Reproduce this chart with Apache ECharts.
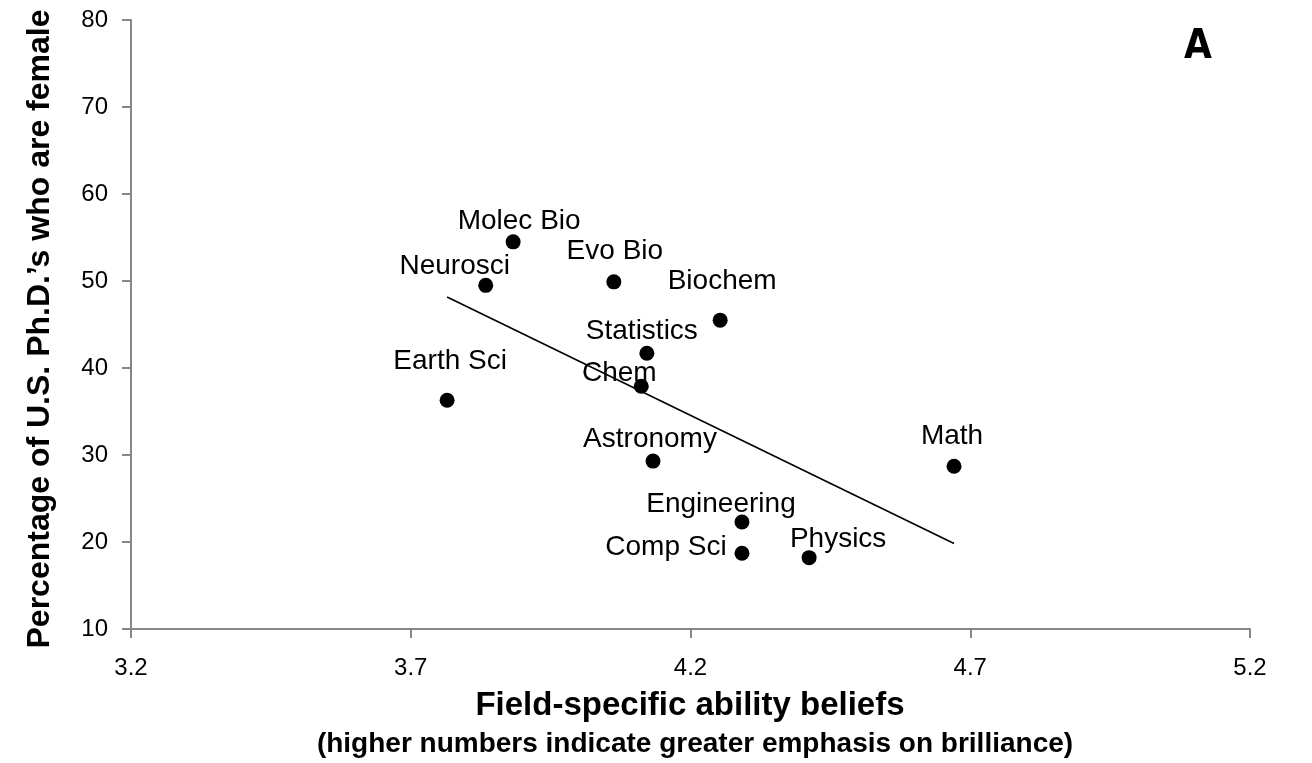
<!DOCTYPE html>
<html>
<head>
<meta charset="utf-8">
<script src="https://cdn.jsdelivr.net/npm/echarts@6/dist/echarts.min.js"></script>
<style>
html, body { margin: 0; padding: 0; background: #fff; }
#chart { width: 1312px; height: 763px; }
</style>
</head>
<body>
<div id="chart"></div>
<script>
// fields
var fields = ['Molec Bio', 'Neurosci', 'Evo Bio', 'Biochem', 'Statistics', 'Chem', 'Earth Sci', 'Astronomy', 'Math', 'Engineering', 'Comp Sci', 'Physics'];
var abilityBeliefs = [3.883, 3.834, 4.063, 4.253, 4.122, 4.112, 3.765, 4.133, 4.671, 4.292, 4.292, 4.412];
var pctFemale = [54.5, 49.5, 49.9, 45.5, 41.7, 37.9, 36.3, 29.3, 28.7, 22.3, 18.7, 18.2];
var xTickLabels = ['3.2', '3.7', '4.2', '4.7', '5.2'];

// where each name sits relative to its dot (px)
var labelOffsets = [[6, -21], [-31, -19], [1, -31], [2, -39], [-5, -22], [-22, -13], [3, -39], [-3, -22], [-2, -30], [-21, -18], [-76, -6], [29, -18]];

var FONT = '"Liberation Sans", Arial, Helvetica, sans-serif';
var AXIS_GRAY = '#878787';

// least squares trend line
var n = abilityBeliefs.length, mx = 0, my = 0;
for (var i = 0; i < n; i++) { mx += abilityBeliefs[i]; my += pctFemale[i]; }
mx /= n; my /= n;
var sxy = 0, sxx = 0;
for (var i = 0; i < n; i++) {
  sxy += (abilityBeliefs[i] - mx) * (pctFemale[i] - my);
  sxx += (abilityBeliefs[i] - mx) * (abilityBeliefs[i] - mx);
}
var slope = sxy / sxx, icpt = my - slope * mx;
var xLo = Math.min.apply(null, abilityBeliefs), xHi = Math.max.apply(null, abilityBeliefs);
var trend = [[xLo, icpt + slope * xLo], [xHi, icpt + slope * xHi]];

var points = fields.map(function (f, i) {
  return { name: f, value: [abilityBeliefs[i], pctFemale[i]], label: { offset: labelOffsets[i] } };
});

var myChart = echarts.init(document.getElementById('chart'));
myChart.setOption({
  animation: false,
  backgroundColor: '#fff',
  grid: { left: 131, right: 62, top: 20, bottom: 134 },
  xAxis: [
    { type: 'value', min: 3.2, max: 5.2, show: false },
    {
      // tick/label axis only: 0..4 stands for 3.2..5.2 in steps of 0.5
      type: 'value', min: 0, max: 4, interval: 1, position: 'bottom',
      axisLine: { show: true, onZero: false, lineStyle: { color: AXIS_GRAY, width: 2 } },
      axisTick: { show: true, length: 9, lineStyle: { color: AXIS_GRAY, width: 2 } },
      axisLabel: { formatter: function (v) { return xTickLabels[v]; }, fontSize: 24, color: '#000', fontFamily: FONT, margin: 27 },
      splitLine: { show: false }
    }
  ],
  yAxis: {
    type: 'value', min: 10, max: 80, interval: 10,
    axisLine: { show: true, onZero: false, lineStyle: { color: AXIS_GRAY, width: 2 } },
    axisTick: { show: true, length: 9, lineStyle: { color: AXIS_GRAY, width: 2 } },
    axisLabel: { fontSize: 24, color: '#000', fontFamily: FONT, margin: 23 },
    splitLine: { show: false }
  },
  series: [
    {
      type: 'scatter',
      xAxisIndex: 0,
      data: points,
      symbolSize: 15,
      itemStyle: { color: '#000', opacity: 1 },
      label: {
        show: true, position: 'inside', formatter: '{b}',
        fontSize: 28, color: '#000', fontFamily: FONT
      },
      z: 3
    },
    {
      type: 'line',
      xAxisIndex: 0,
      data: trend,
      showSymbol: false,
      lineStyle: { color: '#000', width: 1.6 },
      silent: true,
      z: 2
    }
  ],
  graphic: [
    {
      type: 'text', x: 40, y: 329, rotation: Math.PI / 2,
      style: { text: 'Percentage of U.S. Ph.D.’s who are female', font: 'bold 32px ' + FONT, fill: '#000', textAlign: 'center', textVerticalAlign: 'middle' }
    },
    {
      type: 'text', x: 690, y: 706,
      style: { text: 'Field-specific ability beliefs', font: 'bold 33px ' + FONT, fill: '#000', textAlign: 'center', textVerticalAlign: 'middle' }
    },
    {
      type: 'text', x: 695, y: 744,
      style: { text: '(higher numbers indicate greater emphasis on brilliance)', font: 'bold 28px ' + FONT, fill: '#000', textAlign: 'center', textVerticalAlign: 'middle' }
    },
    {
      type: 'text', x: 1198, y: 48,
      style: { text: 'A', font: 'bold 40px "Liberation Sans Narrow", "DejaVu Sans Condensed", ' + FONT, fill: '#000', textAlign: 'center', textVerticalAlign: 'middle' }
    }
  ]
});
</script>
</body>
</html>
